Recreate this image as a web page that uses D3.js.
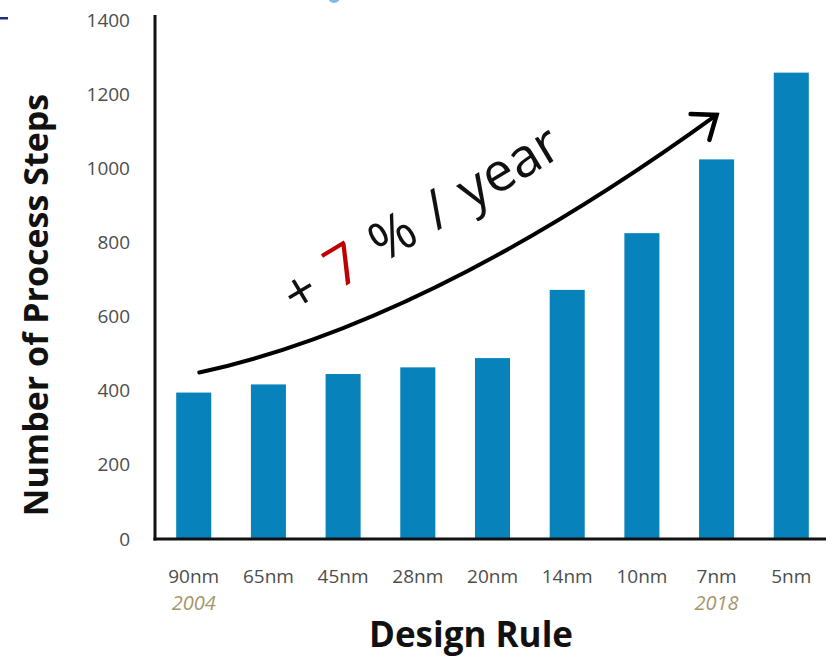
<!DOCTYPE html>
<html>
<head>
<meta charset="utf-8">
<script src="https://cdn.jsdelivr.net/npm/d3@7"></script>
<style>
  html, body { margin: 0; padding: 0; background: #fff; }
  svg { display: block; font-family: "Open Sans", "Noto Sans", sans-serif; }
</style>
</head>
<body>
<svg id="chart" width="832" height="659"></svg>
<script>
// Design rule nodes and the number of process steps each one needs
const designRules = ["90nm", "65nm", "45nm", "28nm", "20nm", "14nm", "10nm", "7nm", "5nm"];
const processSteps = [395, 417, 445, 463, 488, 672, 825, 1024, 1258];
const yearLabels = [{ rule: "90nm", year: "2004" }, { rule: "7nm", year: "2018" }];
const yTicks = [0, 200, 400, 600, 800, 1000, 1200, 1400];

// Growth arrow in data space: x as a fractional category index, y as steps
const trendStart = { i: 0.075, v: 449 };
const trendBend = { i: 3.17, v: 585 };
const trendEnd = { i: 7.0, v: 1144 };
const trendLabelAt = { i: 3.07, v: 854 };

const svg = d3.select("#chart");

const x = d3.scaleBand()
  .domain(designRules)
  .range([157, 828])
  .paddingInner(0.531)
  .paddingOuter(0.257);

const y = d3.scaleLinear().domain([0, 1400]).range([539, 20]);

// fractional index -> pixel x at bar centre
const xi = i => x(designRules[0]) + x.bandwidth() / 2 + i * x.step();

// stray header fragments at the top edge
svg.append("rect").attr("x", 0).attr("y", 17).attr("width", 8).attr("height", 2.5).attr("fill", "#1d2f7a");
svg.append("circle").attr("cx", 334).attr("cy", -3).attr("r", 6).attr("fill", "#7fb8e8");

// bars
svg.append("g").selectAll("rect")
  .data(designRules)
  .join("rect")
  .attr("x", d => x(d))
  .attr("width", x.bandwidth())
  .attr("y", (d, i) => y(processSteps[i]))
  .attr("height", (d, i) => y(0) - y(processSteps[i]))
  .attr("fill", "#0782ba");

// y axis labels
const yAxis = svg.append("g")
  .attr("transform", "translate(155,0)")
  .call(d3.axisLeft(y).tickValues(yTicks).tickSize(0).tickPadding(25).tickFormat(d3.format("d")));
yAxis.select(".domain").remove();
yAxis.selectAll("text")
  .attr("font-family", "'Open Sans', sans-serif")
  .attr("font-size", 19)
  .attr("fill", "#4d4d4d");

// x axis labels
const xAxis = svg.append("g")
  .attr("transform", "translate(0,539)")
  .call(d3.axisBottom(x).tickSize(0).tickPadding(31));
xAxis.select(".domain").remove();
xAxis.selectAll("text")
  .attr("font-family", "'Open Sans', sans-serif")
  .attr("font-size", 19)
  .attr("fill", "#4d4d4d");

// year markers under the first and the 7nm node
svg.append("g").selectAll("text")
  .data(yearLabels)
  .join("text")
  .attr("x", d => x(d.rule) + x.bandwidth() / 2)
  .attr("y", 610)
  .attr("text-anchor", "middle")
  .attr("font-size", 20)
  .attr("font-style", "italic")
  .attr("fill", "#a6976a")
  .text(d => d.year);

// axis lines
svg.append("line")
  .attr("x1", 155).attr("x2", 155)
  .attr("y1", y(1400) - 5).attr("y2", y(0) + 1.5)
  .attr("stroke", "#111").attr("stroke-width", 3);
svg.append("line")
  .attr("x1", 153.5).attr("x2", 826)
  .attr("y1", y(0)).attr("y2", y(0))
  .attr("stroke", "#111").attr("stroke-width", 3);

// axis titles
svg.append("text")
  .attr("transform", "translate(48,305) rotate(-90)")
  .attr("text-anchor", "middle")
  .attr("font-size", 34)
  .attr("font-weight", "bold")
  .attr("fill", "#111")
  .text("Number of Process Steps");

svg.append("text")
  .attr("x", 471)
  .attr("y", 647)
  .attr("text-anchor", "middle")
  .attr("font-size", 35)
  .attr("font-weight", "bold")
  .attr("fill", "#111")
  .text("Design Rule");

// growth arrow
const p0 = [xi(trendStart.i), y(trendStart.v)];
const pc = [xi(trendBend.i), y(trendBend.v)];
const p1 = [xi(trendEnd.i), y(trendEnd.v)];
const curve = d3.path();
curve.moveTo(p0[0], p0[1]);
curve.quadraticCurveTo(pc[0], pc[1], p1[0], p1[1]);
svg.append("path")
  .attr("d", curve.toString())
  .attr("fill", "none")
  .attr("stroke", "#000")
  .attr("stroke-width", 4)
  .attr("stroke-linecap", "round");

const back = Math.atan2(pc[1] - p1[1], pc[0] - p1[0]);
const armLen = 26, spread = 38 * Math.PI / 180;
const head = d3.path();
head.moveTo(p1[0] + armLen * Math.cos(back + spread), p1[1] + armLen * Math.sin(back + spread));
head.lineTo(p1[0], p1[1]);
head.lineTo(p1[0] + armLen * Math.cos(back - spread), p1[1] + armLen * Math.sin(back - spread));
svg.append("path")
  .attr("d", head.toString())
  .attr("fill", "none")
  .attr("stroke", "#000")
  .attr("stroke-width", 4.5)
  .attr("stroke-linecap", "round")
  .attr("stroke-linejoin", "miter");

// growth rate label
const label = svg.append("text")
  .attr("transform", `translate(${xi(trendLabelAt.i)},${y(trendLabelAt.v)}) rotate(-31)`)
  .attr("text-anchor", "middle")
  .attr("dy", "0.27em")
  .attr("font-size", 54)
  .attr("font-weight", 400)
  .attr("word-spacing", 5)
  .attr("fill", "#111")
  .style("white-space", "pre");
label.append("tspan").text("+ ");
label.append("tspan").attr("fill", "#c00000").attr("font-size", 56).text("7");
label.append("tspan").text(" % / year");
</script>
</body>
</html>
